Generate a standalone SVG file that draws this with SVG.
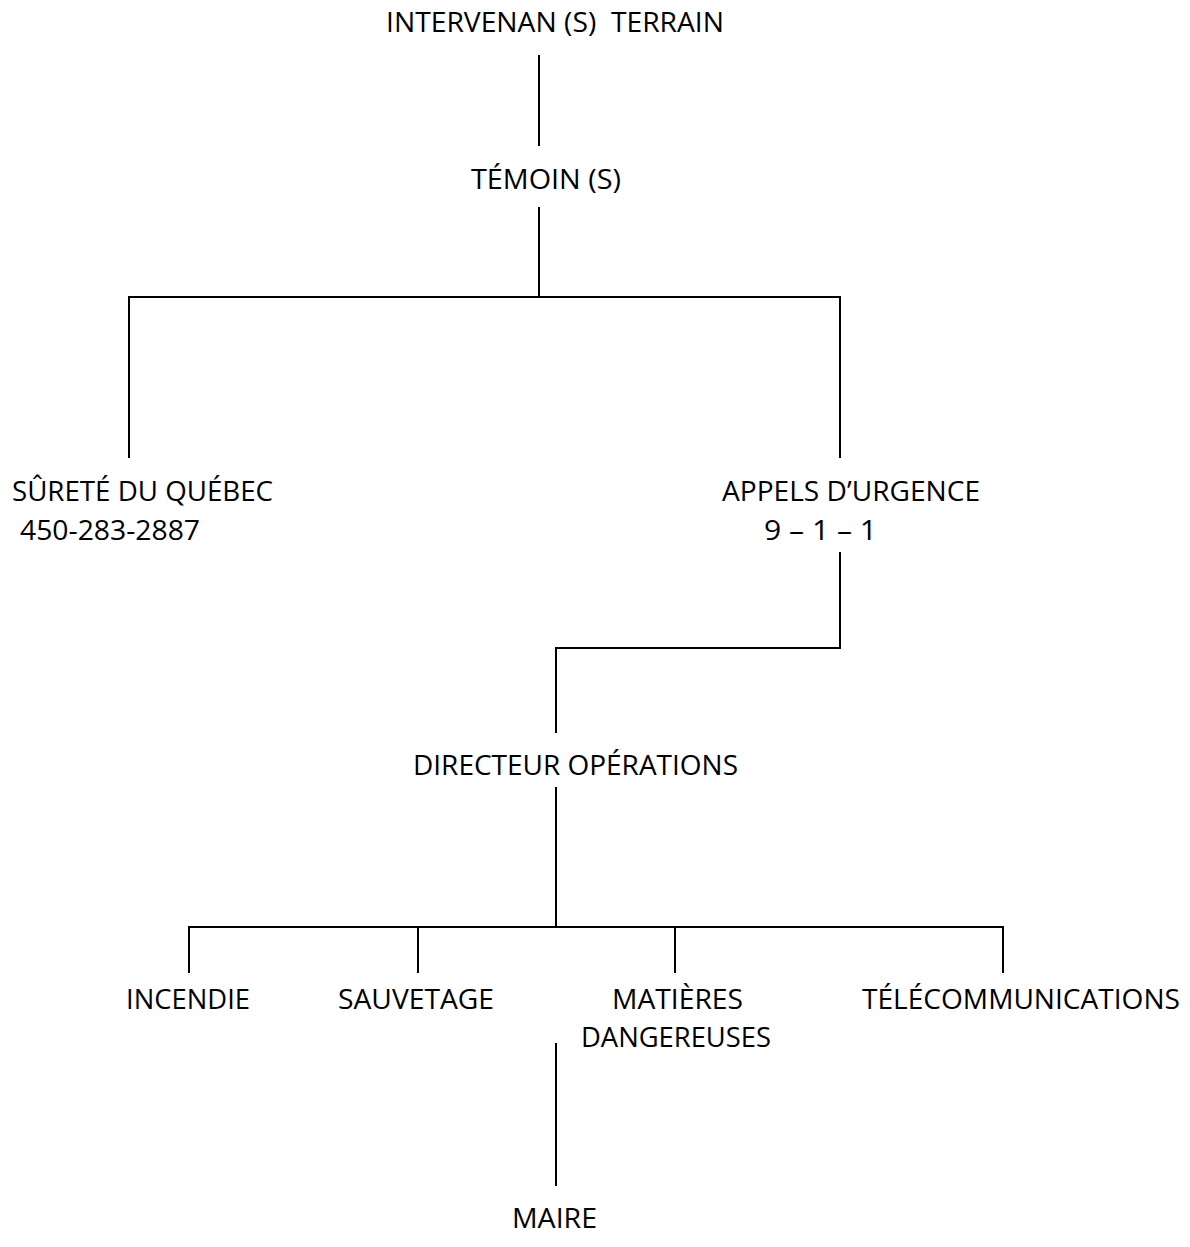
<svg xmlns="http://www.w3.org/2000/svg" width="1190" height="1247" viewBox="0 0 1190 1247">
<style>
text{font-family:"Open Sans",Lato,"Liberation Sans",sans-serif;font-size:26.5px;fill:#000}
.c line{stroke:#000;stroke-width:2}
</style>
<rect width="1190" height="1247" fill="#fff"/>
<g class="c" id="connectors">
<line x1="539" y1="55" x2="539" y2="146"/>
<line x1="539" y1="207" x2="539" y2="297"/>
<line x1="128" y1="297" x2="841" y2="297"/>
<line x1="129" y1="297" x2="129" y2="458"/>
<line x1="840" y1="297" x2="840" y2="458"/>
<line x1="840" y1="552" x2="840" y2="648"/>
<line x1="555" y1="648" x2="841" y2="648"/>
<line x1="556" y1="648" x2="556" y2="733"/>
<line x1="556" y1="787" x2="556" y2="927"/>
<line x1="188" y1="927" x2="1004" y2="927"/>
<line x1="189" y1="927" x2="189" y2="973"/>
<line x1="418" y1="927" x2="418" y2="973"/>
<line x1="675" y1="927" x2="675" y2="973"/>
<line x1="1003" y1="927" x2="1003" y2="973"/>
<line x1="556" y1="1043" x2="556" y2="1186"/>
</g>
<g id="n-intervenant"><text x="386" y="32" textLength="338" lengthAdjust="spacingAndGlyphs" xml:space="preserve">INTERVENAN (S)  TERRAIN</text></g>
<g id="n-temoin"><text x="471" y="189" textLength="150" lengthAdjust="spacingAndGlyphs">TÉMOIN (S)</text></g>
<g id="n-surete"><text x="12" y="501" textLength="261" lengthAdjust="spacingAndGlyphs">SÛRETÉ DU QUÉBEC</text><text x="20" y="540" textLength="180" lengthAdjust="spacingAndGlyphs">450-283-2887</text></g>
<g id="n-appels"><text x="722" y="501" textLength="258" lengthAdjust="spacingAndGlyphs">APPELS D’URGENCE</text><text x="764" y="540" textLength="113" lengthAdjust="spacingAndGlyphs">9 – 1 – 1</text></g>
<g id="n-directeur"><text x="413" y="775" textLength="325" lengthAdjust="spacingAndGlyphs">DIRECTEUR OPÉRATIONS</text></g>
<g id="n-incendie"><text x="126" y="1009" textLength="124" lengthAdjust="spacingAndGlyphs">INCENDIE</text></g>
<g id="n-sauvetage"><text x="338" y="1009" textLength="156" lengthAdjust="spacingAndGlyphs">SAUVETAGE</text></g>
<g id="n-matieres"><text x="612" y="1009" textLength="131" lengthAdjust="spacingAndGlyphs">MATIÈRES</text><text x="581" y="1047" textLength="190" lengthAdjust="spacingAndGlyphs">DANGEREUSES</text></g>
<g id="n-telecom"><text x="862" y="1009" textLength="318" lengthAdjust="spacingAndGlyphs">TÉLÉCOMMUNICATIONS</text></g>
<g id="n-maire"><text x="512" y="1228" textLength="85" lengthAdjust="spacingAndGlyphs">MAIRE</text></g>
</svg>
